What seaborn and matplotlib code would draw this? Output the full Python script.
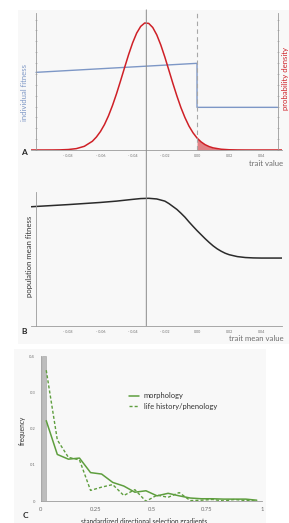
import numpy as np
import pandas as pd
import matplotlib
matplotlib.use('Agg')
import matplotlib.pyplot as plt
from matplotlib.patches import Rectangle, ConnectionPatch
from matplotlib.ticker import MultipleLocator, FixedLocator
import seaborn as sns

# ---- panel A: individual fitness (step) and trait density
fit_x = [-0.1, 0.0, 0.0, 0.05]
fit_y = [0.568, 0.634, 0.312, 0.312]

dens_x = [-0.103, -0.1, -0.095, -0.09, -0.085, -0.08, -0.075, -0.07, -0.065, -0.0625,
          -0.06, -0.0575, -0.055, -0.0525, -0.05, -0.0475, -0.045, -0.0425, -0.04,
          -0.0375, -0.035, -0.0325, -0.03, -0.0275, -0.025, -0.0225, -0.02, -0.0175,
          -0.015, -0.0125, -0.01, -0.0075, -0.005, -0.0025, 0.0, 0.0025, 0.005, 0.0075,
          0.01, 0.015, 0.02, 0.025, 0.03, 0.035, 0.04, 0.045, 0.05, 0.053]
dens_y = [0.0, 0.0, 0.0001, 0.0003, 0.001, 0.0034, 0.010, 0.027, 0.064, 0.095,
          0.135, 0.186, 0.250, 0.326, 0.412, 0.506, 0.603, 0.698, 0.784,
          0.855, 0.904, 0.929, 0.926, 0.896, 0.842, 0.768, 0.680, 0.584,
          0.487, 0.395, 0.310, 0.237, 0.175, 0.126, 0.0875, 0.0595, 0.039, 0.025,
          0.0155, 0.0055, 0.0017, 0.0005, 0.0001, 0.0, 0.0, 0.0, 0.0, 0.0]
trait_mean = -0.0315

# ---- panel B: population mean fitness vs trait mean
pop_x = [-0.103, -0.09, -0.08, -0.07, -0.06, -0.05, -0.04, -0.035, -0.03, -0.025,
         -0.02, -0.0175, -0.015, -0.0125, -0.01, -0.0075, -0.005, -0.0025, 0.0,
         0.0025, 0.005, 0.0075, 0.01, 0.0125, 0.015, 0.0175, 0.02, 0.025, 0.03,
         0.035, 0.04, 0.053]
pop_y = [0.888, 0.897, 0.904, 0.912, 0.920, 0.930, 0.943, 0.949, 0.951, 0.946,
         0.930, 0.912, 0.890, 0.868, 0.840, 0.810, 0.775, 0.742, 0.710,
         0.680, 0.650, 0.622, 0.596, 0.574, 0.556, 0.541, 0.530, 0.516, 0.509,
         0.506, 0.505, 0.505]

# ---- panel C: frequency of standardized directional selection gradients
bins = [0.025, 0.075, 0.125, 0.175, 0.225, 0.275, 0.325, 0.375, 0.425, 0.475,
        0.525, 0.575, 0.625, 0.675, 0.725, 0.775, 0.825, 0.875, 0.925, 0.975]
morphology = [0.222, 0.129, 0.116, 0.119, 0.079, 0.075, 0.052, 0.042, 0.025, 0.029,
              0.015, 0.022, 0.015, 0.009, 0.007, 0.007, 0.006, 0.006, 0.006, 0.003]
life_history = [0.361, 0.169, 0.121, 0.114, 0.030, 0.039, 0.046, 0.016, 0.032, 0.0,
                0.017, 0.011, 0.024, 0.002, 0.003, 0.005, 0.001, 0.005, 0.002, 0.001]

sns.set_style('white')
plt.rcParams['font.family'] = ['Lato', 'DejaVu Sans']

blue = '#7d97c6'
red = '#cf2027'
green = '#5e9e3e'
axgray = '#9a9a9a'
txtgray = '#6e6e6e'

fig = plt.figure(figsize=(2.89, 5.23), dpi=100)
fig.add_artist(Rectangle((0.0623, 0.3423), 0.9377, 0.6386, transform=fig.transFigure,
                         facecolor='#f8f8f8', edgecolor='none', zorder=-10))
fig.add_artist(Rectangle((0.0484, 0.0), 0.872, 0.3327, transform=fig.transFigure,
                         facecolor='#f8f8f8', edgecolor='none', zorder=-10))


def style_trait_axis(ax):
    ax.set_xlim(-0.103, 0.053)
    ax.set_ylim(0, 1)
    ax.patch.set_alpha(0)
    ax.spines['top'].set_visible(False)
    ax.spines['left'].set_position(('data', -0.1))
    ax.spines['bottom'].set_position(('data', 0))
    for s in ax.spines.values():
        s.set_color(axgray)
        s.set_linewidth(0.6)
    ax.xaxis.set_major_locator(FixedLocator([-0.08, -0.06, -0.04, -0.02, 0.0, 0.02, 0.04]))
    ax.xaxis.set_minor_locator(MultipleLocator(0.005))
    ax.set_xticklabels(['- 0.08', '- 0.06', '- 0.04', '- 0.02', '0.00', '0.02', '0.04'])
    ax.tick_params(axis='x', which='major', direction='inout', length=2.5, width=0.4,
                   colors=axgray, labelsize=2.6, labelcolor=txtgray, pad=1.5)
    ax.tick_params(axis='x', which='minor', direction='inout', length=1.5, width=0.3,
                   colors=axgray)
    ax.set_xlabel('')
    ax.set_ylabel('')


# ---- A
axA = fig.add_axes([0.108, 0.7132, 0.869, 0.2614])
sns.lineplot(x=fit_x, y=fit_y, ax=axA, color=blue, lw=1.0, estimator=None, sort=False)
sns.lineplot(x=dens_x, y=dens_y, ax=axA, color=red, lw=1.1, estimator=None, sort=False)
tail = pd.DataFrame({'x': dens_x, 'y': dens_y})
tail = tail[tail['x'] >= 0]
axA.fill_between(tail['x'], 0, tail['y'], color=red, alpha=0.55, lw=0)
axA.axvline(0, ymin=0, ymax=1, color='#a8a8a8', lw=0.8, ls=(0, (4, 3)))
style_trait_axis(axA)
axA.spines['right'].set_position(('data', 0.05))
axA.yaxis.set_ticks_position('both')
axA.yaxis.set_major_locator(MultipleLocator(0.159))
axA.yaxis.set_minor_locator(MultipleLocator(0.0795))
axA.tick_params(axis='y', which='both', direction='inout', length=2, width=0.4,
                colors=axgray, labelleft=False, labelright=False)
axA.tick_params(axis='y', which='minor', length=1.2)

# ---- B
axB = fig.add_axes([0.108, 0.3772, 0.869, 0.2562])
sns.lineplot(x=pop_x, y=pop_y, ax=axB, color='#2b2b2b', lw=1.1, estimator=None, sort=False)
style_trait_axis(axB)
axB.spines['right'].set_visible(False)
axB.yaxis.set_major_locator(MultipleLocator(0.2))
axB.yaxis.set_minor_locator(MultipleLocator(0.05))
axB.tick_params(axis='y', which='both', direction='inout', length=2, width=0.4,
                colors=axgray, labelleft=False)
axB.tick_params(axis='y', which='minor', length=1.2)

# mean line through A and B
con = ConnectionPatch(xyA=(trait_mean, 1.025), coordsA=axA.transData,
                      xyB=(trait_mean, 0), coordsB=axB.transData,
                      color='#8a8a8a', lw=0.7)
fig.add_artist(con)

# ---- C
axC = fig.add_axes([0.1408, 0.0415, 0.7668, 0.2778])
axC.patch.set_alpha(0)
axC.axvspan(0.006, 0.026, color='#bdbdbd', lw=0.4, ec='#a0a0a0')
sns.lineplot(x=bins, y=morphology, ax=axC, color=green, lw=1.1, label='morphology')
sns.lineplot(x=bins, y=life_history, ax=axC, color=green, lw=1.0,
             ls=(0, (2.2, 1.5)), label='life history/phenology')
axC.set_xlim(0, 1)
axC.set_ylim(0, 0.4)
for s in ['top', 'right']:
    axC.spines[s].set_visible(False)
for s in ['left', 'bottom']:
    axC.spines[s].set_color(axgray)
    axC.spines[s].set_linewidth(0.6)
axC.set_xticks([0, 0.25, 0.5, 0.75, 1])
axC.set_xticklabels(['0', '0.25', '0.5', '0.75', '1'])
axC.set_yticks([0, 0.1, 0.2, 0.3, 0.4])
axC.set_yticklabels(['0', '0.1', '0.2', '0.3', '0.4'])
axC.tick_params(axis='x', length=2, width=0.4, colors=axgray, labelsize=4.2,
                labelcolor=txtgray, pad=2)
axC.tick_params(axis='y', length=2, width=0.4, colors=axgray, labelsize=3,
                labelcolor=txtgray, pad=2)
axC.set_xlabel('')
axC.set_ylabel('')
axC.legend(loc='upper left', bbox_to_anchor=(0.448, 0.25), bbox_transform=fig.transFigure,
           frameon=False, fontsize=5.4, handlelength=1.3, handletextpad=0.6,
           labelspacing=0.5, borderpad=0, borderaxespad=0, labelcolor='#333333')

# ---- texts
fig.text(0.0865, 0.823, 'individual fitness', rotation=90, color=blue, fontsize=5.6,
         ha='center', va='center')
fig.text(0.9885, 0.849, 'probability density', rotation=90, color=red, fontsize=5.6,
         ha='center', va='center')
fig.text(0.978, 0.688, 'trait value', color=txtgray, fontsize=5.6, ha='right', va='center')
fig.text(0.083, 0.709, 'A', fontsize=6, fontweight='bold', ha='center', va='center')

fig.text(0.1015, 0.509, 'population mean fitness', rotation=90, color='#333333',
         fontsize=5.6, ha='center', va='center')
fig.text(0.983, 0.352, 'trait mean value', color=txtgray, fontsize=5.6, ha='right',
         va='center')
fig.text(0.083, 0.367, 'B', fontsize=6, fontweight='bold', ha='center', va='center')

fig.text(0.077, 0.178, 'frequency', rotation=90, color='#333333', fontsize=4.8,
         ha='center', va='center')
fig.text(0.497, -0.001, 'standardized directional selection gradients', color='#333333',
         fontsize=4.8, ha='center', va='baseline')
fig.text(0.0865, 0.0134, 'C', fontsize=6, fontweight='bold', ha='center', va='center')

fig.savefig('out.png', dpi=100)
